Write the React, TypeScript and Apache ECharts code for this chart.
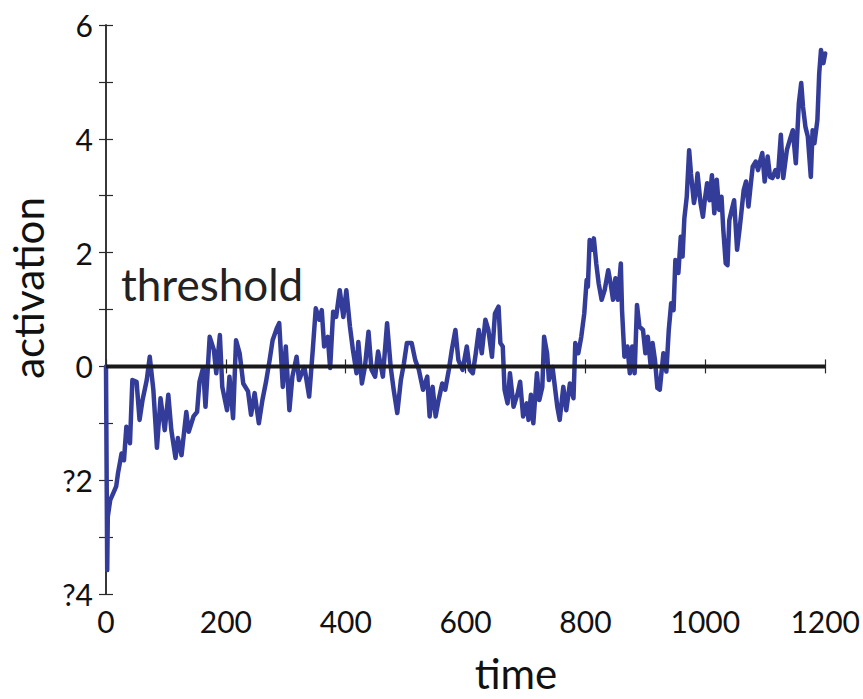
import React, { useEffect, useRef } from "react";
import * as echarts from "echarts";

const times: number[] = [
  0, 2, 3, 7, 12, 17, 20, 26, 30, 34, 40, 44, 51, 56, 61, 68, 73, 79, 85, 91, 98, 104, 109, 116, 120, 126,
  134, 138, 146, 152, 156, 162, 166, 173, 180, 184, 190, 194, 202, 206, 212, 217, 223, 229, 237, 242, 248,
  255, 261, 267, 273, 278, 285, 289, 295, 300, 306, 311, 318, 322, 331, 339, 345, 350, 356, 360, 364, 370,
  374, 379, 384, 390, 396, 401, 407, 412, 418, 421, 427, 432, 438, 443, 449, 454, 462, 469, 475, 480, 486,
  492, 497, 502, 510, 516, 522, 529, 536, 540, 545, 550, 555, 561, 566, 572, 577, 583, 588, 595, 602, 607,
  612, 617, 622, 627, 633, 638, 644, 649, 655, 658, 662, 665, 670, 674, 680, 687, 691, 696, 702, 705, 709,
  713, 719, 723, 728, 731, 736, 739, 745, 749, 753, 757, 763, 768, 774, 780, 783, 788, 793, 798, 802, 804,
  807, 811, 814, 818, 822, 827, 832, 838, 842, 846, 850, 854, 859, 861, 865, 870, 874, 878, 882, 886, 890,
  896, 900, 904, 909, 912, 916, 920, 924, 930, 935, 939, 943, 947, 950, 955, 959, 962, 965, 969, 973, 976,
  981, 984, 987, 992, 996, 999, 1003, 1007, 1011, 1015, 1019, 1023, 1027, 1030, 1034, 1037, 1040, 1044,
  1048, 1053, 1057, 1060, 1064, 1068, 1072, 1076, 1079, 1084, 1088, 1092, 1095, 1099, 1104, 1108, 1112,
  1117, 1121, 1126, 1130, 1136, 1141, 1146, 1151, 1156, 1160, 1163, 1167, 1171, 1176, 1179, 1182, 1187,
  1190, 1193, 1197, 1200,
];

const activation: number[] = [
  0, -3.58, -2.64, -2.35, -2.23, -2.11, -1.88, -1.53, -1.65, -1.06, -1.35, -0.24, -0.27, -0.94, -0.59, -0.24,
  0.17, -0.41, -1.43, -0.56, -1.12, -0.5, -1.12, -1.61, -1.26, -1.56, -0.8, -1.15, -0.88, -0.8, -0.27, -0.03,
  -0.71, 0.52, 0.29, -0.12, 0.55, -0.36, -0.77, -0.18, -0.91, 0.46, 0.23, -0.3, -0.44, -0.85, -0.47, -1.0,
  -0.59, -0.27, 0.11, 0.46, 0.67, 0.76, -0.36, 0.35, -0.77, -0.18, 0.17, -0.24, -0.01, -0.53, 0.29, 1.02,
  0.82, 0.99, 0.35, 0.52, -0.03, 0.96, 0.87, 1.34, 0.87, 1.34, 0.7, 0.29, -0.12, 0.43, -0.3, -0.01, 0.61,
  -0.06, -0.18, 0.26, -0.18, 0.76, -0.01, -0.41, -0.82, -0.24, 0.05, 0.41, 0.41, 0.11, -0.06, -0.41, -0.18,
  -0.88, -0.36, -0.88, -0.59, -0.3, -0.41, -0.06, 0.29, 0.64, 0.11, -0.06, 0.35, -0.06, -0.12, 0.23, 0.64,
  0.23, 0.82, 0.64, 0.17, 0.93, 1.05, 0.41, 0.35, -0.41, -0.65, -0.12, -0.71, -0.47, -0.27, -0.88, -0.65,
  -0.94, -0.5, -1.0, -0.12, -0.59, -0.36, 0.52, 0.23, -0.24, -0.01, -0.36, -0.71, -0.94, -0.36, -0.77,
  -0.3, -0.56, 0.41, 0.23, 0.52, 0.93, 1.52, 1.4, 2.22, 2.05, 2.25, 1.81, 1.46, 1.17, 1.34, 1.69, 1.46,
  1.17, 1.55, 1.17, 1.81, 0.99, 0.17, 0.35, -0.12, 0.35, -0.12, 1.08, 0.7, 0.64, 0.23, 0.52, -0.01, 0.41,
  0.11, -0.38, -0.41, 0.23, -0.09, 0.64, 1.11, 0.99, 1.87, 1.64, 2.28, 1.93, 2.6, 2.98, 3.8, 3.39, 2.87,
  3.04, 3.39, 2.87, 2.63, 2.92, 3.22, 2.92, 3.36, 2.69, 3.28, 2.75, 2.98, 2.4, 1.81, 1.78, 2.57, 2.75,
  2.92, 2.05, 2.4, 2.69, 3.1, 3.25, 2.81, 3.22, 3.51, 3.6, 3.45, 3.63, 3.75, 3.25, 3.69, 3.33, 3.31, 3.45,
  3.33, 4.07, 3.31, 3.8, 3.98, 4.15, 3.57, 4.62, 4.98, 4.56, 4.21, 4.04, 3.33, 4.15, 3.92, 4.33, 5.15,
  5.56, 5.33, 5.5,
];

const xTickValues: number[] = [0, 200, 400, 600, 800, 1000, 1200];
const yTickValues: number[] = [-4, -2, 0, 2, 4, 6];
const yTickLabels: string[] = ["?4", "?2", "0", "2", "4", "6"];
const thresholdValue = 0;
const thresholdLabel = "threshold";
const xAxisName = "time";
const yAxisName = "activation";

const FONT = "Lato, 'Open Sans', sans-serif";

export default function App() {
  const ref = useRef<HTMLDivElement>(null);

  useEffect(() => {
    if (!ref.current) return;
    const chart = echarts.init(ref.current, undefined, { renderer: "svg" });
    const data = times.map((t, i) => [t, activation[i]]);
    const axisLine = { show: true, lineStyle: { color: "#2a2a2a", width: 1.5 } };
    const tick = { show: true, inside: true, length: 7, lineStyle: { color: "#2a2a2a", width: 1.2 } };
    const yLabel = (v: number) => {
      const idx = yTickValues.indexOf(v);
      return idx >= 0 ? yTickLabels[idx] : "";
    };
    const xLabel = (v: number) => (xTickValues.indexOf(v) >= 0 ? String(v) : "");

    chart.setOption({
      animation: false,
      backgroundColor: "#ffffff",
      grid: { left: 106, top: 25, right: 35, bottom: 105, containLabel: false },
      xAxis: [
        {
          type: "value",
          min: 0,
          max: 1200,
          interval: 200,
          position: "bottom",
          axisLine,
          axisTick: tick,
          splitLine: { show: false },
          axisLabel: {
            formatter: xLabel,
            fontFamily: FONT,
            fontSize: 30,
            color: "#111",
            margin: 12,
          },
        },
        {
          type: "value",
          min: 0,
          max: 1200,
          interval: 200,
          position: "top",
          axisLine,
          axisTick: tick,
          splitLine: { show: false },
          axisLabel: { show: false },
        },
      ],
      yAxis: [
        {
          type: "value",
          min: -4,
          max: 6,
          interval: 1,
          position: "left",
          axisLine,
          axisTick: tick,
          splitLine: { show: false },
          axisLabel: {
            formatter: yLabel,
            fontFamily: FONT,
            fontSize: 30,
            color: "#111",
            margin: 13,
          },
        },
        {
          type: "value",
          min: -4,
          max: 6,
          interval: 1,
          position: "right",
          axisLine,
          axisTick: tick,
          splitLine: { show: false },
          axisLabel: { show: false },
        },
      ],
      series: [
        {
          type: "line",
          data,
          showSymbol: false,
          symbol: "none",
          lineStyle: { color: "#333d99", width: 4.5, join: "round", cap: "round" },
          z: 2,
        },
        {
          type: "line",
          data: [
            [0, thresholdValue],
            [1200, thresholdValue],
          ],
          showSymbol: false,
          symbol: "none",
          lineStyle: { color: "#1a1a1a", width: 4 },
          z: 3,
        },
      ],
      graphic: [
        {
          type: "text",
          left: 121,
          top: 262,
          style: { text: thresholdLabel, fontFamily: FONT, fontSize: 44, fill: "#222" },
        },
        {
          type: "text",
          x: 516,
          y: 673,
          style: {
            text: xAxisName,
            fontFamily: FONT,
            fontSize: 42,
            fill: "#111",
            textAlign: "center",
            textVerticalAlign: "middle",
          },
        },
        {
          type: "text",
          x: 28,
          y: 288,
          rotation: Math.PI / 2,
          style: {
            text: yAxisName,
            fontFamily: FONT,
            fontSize: 42,
            fill: "#111",
            textAlign: "center",
            textVerticalAlign: "middle",
          },
        },
      ],
    });
    return () => chart.dispose();
  }, []);

  return (
    <div
      ref={ref}
      style={{ position: "fixed", left: 0, top: 0, width: 863, height: 699, background: "#fff" }}
    />
  );
}
